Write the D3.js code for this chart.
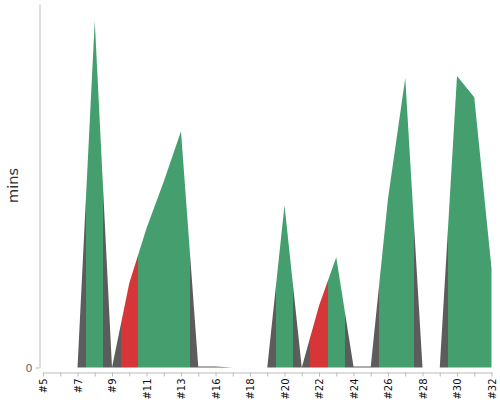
<!DOCTYPE html>
<html>
<head>
<meta charset="utf-8">
<script src="https://cdn.jsdelivr.net/npm/d3@7"></script>
<style>
html,body{margin:0;padding:0;background:#fff;}
svg{display:block;}
</style>
</head>
<body>
<svg id="chart" width="500" height="400"></svg>
<script>
const categories = ["#5","#6","#7","#8","#9","#10","#11","#12","#13","#14","#16","#17","#18","#19","#20","#21","#22","#23","#24","#25","#26","#27","#28","#29","#30","#31","#32"];
const values = [null,null,0,57.2,0,13.9,23.0,30.7,39.0,0.15,0.15,0,null,0,26.8,0,10.2,18.2,0.15,0.15,27.9,47.8,0,0,48.1,44.6,16.4];
const status = ["idle","idle","idle","ok","idle","late","ok","ok","ok","idle","idle","idle","idle","idle","ok","idle","late","ok","idle","idle","ok","ok","idle","idle","ok","ok","ok"];
const yTicks = [0];
const yLabel = "mins";
const statusColor = {idle:"#5c5c5c", ok:"#449e6e", late:"#d63638"};

const svg = d3.select("#chart");
const x = d3.scalePoint().domain(categories).range([43, 491.5]);
const y = d3.scaleLinear().domain([0, 60]).range([367.5, 4]);
const step = x.step();

const data = categories.map((c,i)=>({c, v: values[i], s: status[i]}));

// gradient with hard stops at midpoints
const defs = svg.append("defs");
const grad = defs.append("linearGradient").attr("id","g")
  .attr("gradientUnits","userSpaceOnUse")
  .attr("x1", x.range()[0]).attr("x2", x.range()[1]).attr("y1",0).attr("y2",0);
const x0 = x.range()[0], W = x.range()[1]-x.range()[0];
data.forEach((d,i)=>{
  const a = Math.max(0, (x(d.c)-step/2 - x0)/W);
  const b = Math.min(1, (x(d.c)+step/2 - x0)/W);
  grad.append("stop").attr("offset", a).attr("stop-color", statusColor[d.s]);
  grad.append("stop").attr("offset", b).attr("stop-color", statusColor[d.s]);
});

const area = d3.area()
  .defined(d=>d.v!=null)
  .x(d=>x(d.c)).y0(y(0)).y1(d=>y(d.v));
svg.append("path").datum(data).attr("d", area).attr("fill","url(#g)");

// y axis
const gy = svg.append("g").attr("transform","translate(39.5,0)")
  .call(d3.axisLeft(y).tickValues(yTicks).tickSize(4).tickSizeOuter(0).tickPadding(3));
gy.select(".domain").attr("stroke","#bbb");
gy.selectAll(".tick line").attr("stroke","#bbb");
gy.selectAll(".tick text").attr("fill","#666").attr("font-family","DejaVu Sans").attr("font-size",11);

// x axis
const gx = svg.append("g").attr("transform","translate(0,372.5)")
  .call(d3.axisBottom(x).tickSize(4).tickSizeOuter(0).tickPadding(5)
    .tickFormat((d,i)=> i%2===0 ? d : ""));
gx.select(".domain").attr("stroke","#bbb");
gx.selectAll(".tick line").attr("stroke","#bbb");
gx.selectAll(".tick text")
  .attr("fill","#111").attr("font-family","DejaVu Sans").attr("font-size",10)
  .attr("transform","rotate(-90)")
  .attr("text-anchor","end").attr("dy","0.35em").attr("x",-6).attr("y",0);

svg.append("text").text(yLabel)
  .attr("transform","translate(18,185.5) rotate(-90)")
  .attr("text-anchor","middle")
  .attr("font-family","DejaVu Sans").attr("font-size",14.5).attr("fill","#333");
</script>
</body>
</html>
